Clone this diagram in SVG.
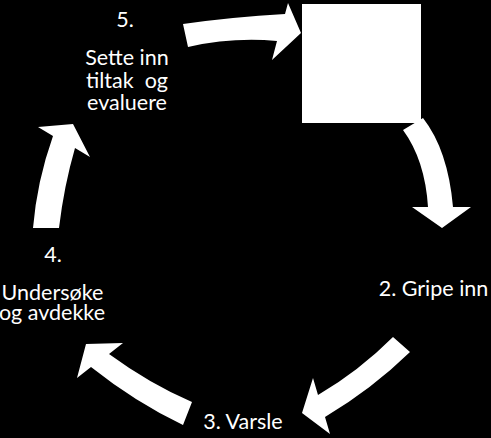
<svg xmlns="http://www.w3.org/2000/svg" width="491" height="438" viewBox="0 0 491 438">
<style>
.bg{fill:#000}
.box{fill:#fff}
.arr{fill:#fff;stroke:none}
.lbl{font-family:Lato,"Liberation Sans",sans-serif;font-size:21.5px;fill:#fff;text-anchor:middle;white-space:pre}
</style>
<rect class="bg" x="0" y="0" width="491" height="438"/>
<g id="connectors">
  <path id="arrow-5-1" class="arr" d="M183,24 Q232,17 285,14 L288,3 L301,33 L272,60 L277,41 Q232,37 188,47 Z"/>
  <path id="arrow-1-2" class="arr" d="M423,118 Q448,150 453,207 L471,207 L442,228 L412,207 L428,207 Q425,160 403,130 Z"/>
  <path id="arrow-2-3" class="arr" d="M410,352 Q372,389 325,417 L330,434 L302,413 L313,378 L318,395 Q359,371 393,337 Z"/>
  <path id="arrow-3-4" class="arr" d="M183,425 Q135,402 91,367 L77,378 L86,344 L123,343 L109,354 Q150,384 192,402 Z"/>
  <path id="arrow-4-5" class="arr" d="M33,228 Q37,181 53,136 L38,127 L73,124 L90,157 L75,148 Q64,186 59,228 Z"/>
</g>
<g id="node-1">
  <rect class="box" x="302" y="4" width="119" height="119"/>
</g>
<g id="node-2">
  <text class="lbl" x="433.5" y="295.5">2. Gripe inn</text>
</g>
<g id="node-3">
  <text class="lbl" x="243" y="429">3. Varsle</text>
</g>
<g id="node-4">
  <text class="lbl" x="53" y="261.5">4.</text>
  <text class="lbl" x="52.5" y="299.5">Undersøke</text>
  <text class="lbl" x="52" y="319.5">og avdekke</text>
</g>
<g id="node-5">
  <text class="lbl" x="125" y="26.5">5.</text>
  <text class="lbl" x="127" y="65">Sette inn</text>
  <text class="lbl" x="127" y="87.5">tiltak  og</text>
  <text class="lbl" x="127" y="110">evaluere</text>
</g>
</svg>
